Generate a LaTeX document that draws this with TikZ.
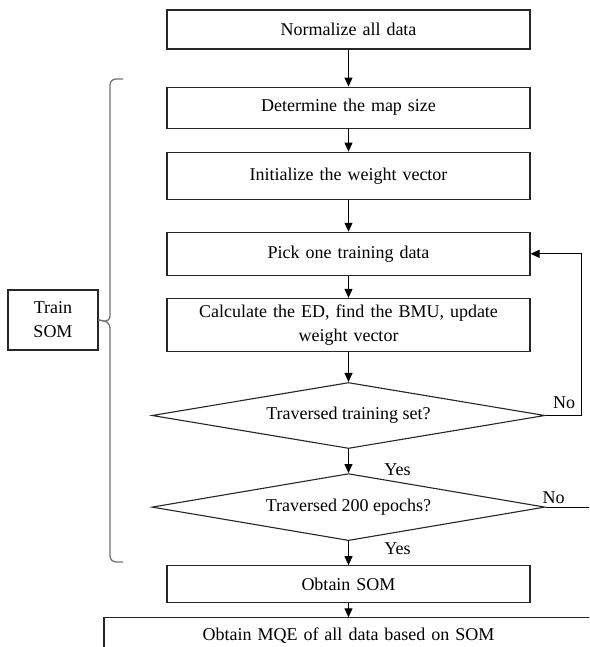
\documentclass[tikz,border=0pt]{standalone}
\usepackage{fontspec}
\setmainfont{Liberation Serif}
\usetikzlibrary{positioning,shapes.geometric,arrows.meta}

\begin{document}
\begin{tikzpicture}[x=1pt, y=-1pt, >={Triangle[length=9pt,width=8pt]},
  font=\fontsize{18}{24}\selectfont,
  process/.style={draw=black!85, line width=1.1pt, minimum width=363pt, inner sep=2pt, text width=340pt, align=center},
  decision/.style={draw=black!85, line width=1.1pt, diamond, aspect=6, inner sep=0pt, minimum width=393pt, minimum height=66pt},
  arr/.style={->, draw=black, line width=1pt},
  brace/.style={draw=black!55, line width=1.3pt, rounded corners=6pt}]
  \clip (0,0) rectangle (589,647);
  \node[process, minimum height=39pt] (norm) at (348.5,29.5) {Normalize all data};
  \node[process, minimum height=41pt] (size) [below=37pt of norm] {Determine the map size};
  \node[process, minimum height=47pt] (init) [below=23pt of size] {Initialize the weight vector};
  \node[process, minimum height=43pt] (pick) [below=32pt of init] {Pick one training data};
  \node[process, minimum height=53pt] (calc) [below=22pt of pick] {Calculate the ED, find the BMU, update\\weight vector};
  \node[decision] (trav) [below=30pt of calc] {Traversed training set?};
  \node[decision, minimum height=67pt] (epoch) [below=24pt of trav] {Traversed 200 epochs?};
  \node[process, minimum height=37pt] (som) [below=24pt of epoch] {Obtain SOM};
  \node[process, minimum height=35pt, minimum width=489pt, text width=460pt] (mqe) [below=14pt of som] {Obtain MQE of all data based on SOM};
  \node[process, minimum width=90pt, minimum height=60pt, text width=80pt] (train) at (53,320) {Train\\SOM};
  \coordinate (exit) at ([xshift=80pt]epoch.east);
  \path[arr]
    (norm) edge (size)
    (size) edge (init)
    (init) edge (pick)
    (pick) edge (calc)
    (calc) edge (trav)
    (trav) edge node[pos=0.85, right=32pt] {Yes} (epoch)
    (epoch) edge node[pos=0.3, right=32pt] {Yes} (som)
    (som) edge (mqe);
  \draw[arr] (trav.east) -- ++(36,0) node[above left, inner sep=6pt] {No} |- (pick.east);
  \draw[draw=black, line width=1pt] (epoch.east) -- node[pos=0.1, above, inner sep=3pt] {No} (exit);
  % brace round the training steps
  \draw[brace] (123,79) -- (110,79) -- (110,322) -- (train.east);
  \draw[brace] (123,562) -- (110,562) -- (110,322) -- (train.east);
\end{tikzpicture}
\end{document}
